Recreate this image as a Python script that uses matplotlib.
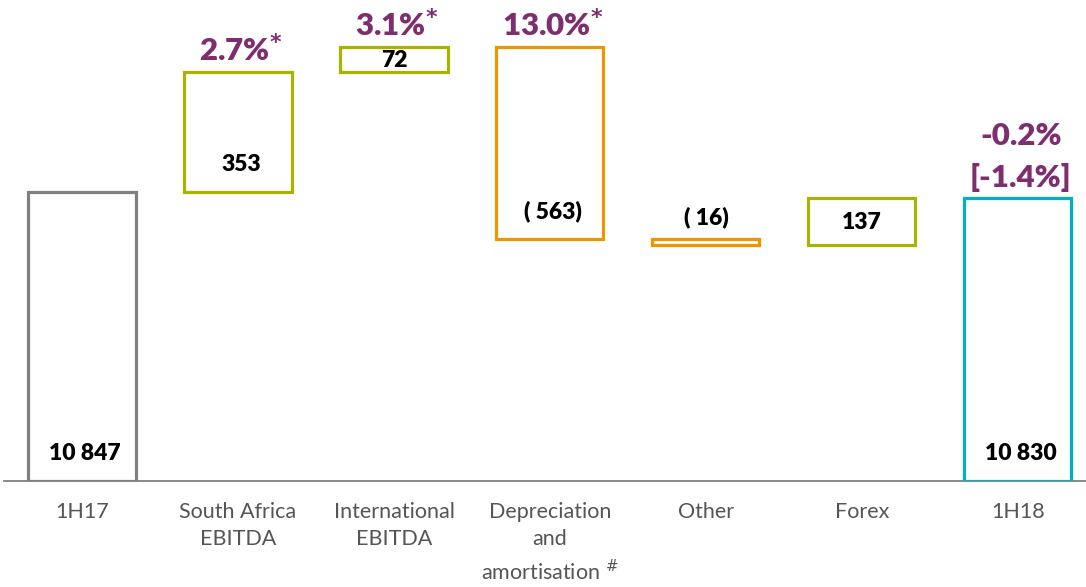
import matplotlib.pyplot as plt

# data
categories = ['1H17', 'South Africa\nEBITDA', 'International\nEBITDA',
              'Depreciation\nand\namortisation $^{\\#}$', 'Other', 'Forex', '1H18']
values = [10847, 353, 72, -563, -16, 137, 10830]
is_total = [True, False, False, False, False, False, True]
value_labels = ['10 847', '353', '72', '( 563)', '( 16)', '137', '10 830']
pct_labels = ['', '2.7%$^{\\mathbf{*}}$', '3.1%$^{\\mathbf{*}}$', '13.0%$^{\\mathbf{*}}$',
              '', '', '-0.2%\n[-1.4%]']
colors = ['#808080', '#a8b400', '#a8b400', '#eb9700', '#eb9700', '#a8b400', '#00b0ca']

Y_BASE = 10000  # axis is broken, starts at 10 000
Y_TOP = 11410

plt.rcParams['font.family'] = ['Lato', 'DejaVu Sans']
plt.rcParams['mathtext.fontset'] = 'dejavusans'

fig = plt.figure(figsize=(10.86, 5.87), dpi=100)
ax = fig.add_axes([4 / 1086, 106 / 587, 1082 / 1086, 481 / 587])
ax.set_xlim(-0.5, 6.436)
ax.set_ylim(Y_BASE, Y_TOP)

pt_per_unit = (481 * 0.72) / (Y_TOP - Y_BASE)

running = 0
for i, v in enumerate(values):
    if is_total[i]:
        bottom, height = Y_BASE, v - Y_BASE
        running = v
    else:
        if v >= 0:
            bottom, height = running, v
        else:
            bottom, height = running + v, -v
        running += v
    ax.bar(i, height, bottom=bottom, width=0.686, fill=False,
           edgecolor=colors[i], linewidth=2.3, zorder=3)

    h_pts = height * pt_per_unit
    lbl = dict(ha='center', va='center', fontsize=16.5, fontweight='heavy', color='black',
               textcoords='offset points')
    if h_pts > 45:
        ax.annotate(value_labels[i], (i, bottom), xytext=(2, 20), **lbl)
    elif h_pts > 10:
        ax.annotate(value_labels[i], (i, bottom + height / 2), xytext=(0, -1), **lbl)
    else:
        ax.annotate(value_labels[i], (i, bottom + height), xytext=(0, 16), **lbl)

    if pct_labels[i]:
        ax.annotate(pct_labels[i], (i, bottom + height), xytext=(2, 4), textcoords='offset points',
                    ha='center', va='bottom', fontsize=22.5, fontweight='heavy', color='#7e2d6e',
                    linespacing=1.55)

ax.set_xticks(range(len(categories)))
ax.set_xticklabels(categories, fontsize=15.5, color='#555555', linespacing=1.45, va='top')
ax.tick_params(axis='x', length=0, pad=15)
ax.set_yticks([])
for s in ['top', 'right', 'left']:
    ax.spines[s].set_visible(False)
ax.spines['bottom'].set_color('#808080')
ax.spines['bottom'].set_linewidth(1.3)

fig.savefig('out.png', dpi=100)
